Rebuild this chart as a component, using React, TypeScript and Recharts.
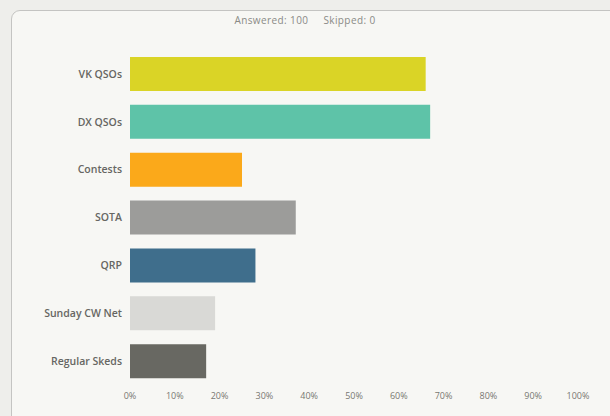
import { BarChart, Bar, XAxis, YAxis, Cell } from 'recharts'

const categories = ['VK QSOs', 'DX QSOs', 'Contests', 'SOTA', 'QRP', 'Sunday CW Net', 'Regular Skeds']
const percents = [66, 67, 25, 37, 28, 19, 17]
const colors = ['#dad426', '#5ec3a8', '#fba91a', '#9c9c9a', '#3f6e8c', '#d9d9d6', '#686862']
const xTicks = [0, 10, 20, 30, 40, 50, 60, 70, 80, 90, 100]
const answered = 100
const skipped = 0

const rows = categories.map((name, i) => ({ name, value: percents[i] }))
const font = '"Open Sans", "DejaVu Sans", sans-serif'

export default function App() {
  return (
    <div style={{ position: 'absolute', left: 0, top: 0, width: 610, height: 416, background: '#eeeeeb', overflow: 'hidden' }}>
      <div style={{ position: 'absolute', left: 11, top: 10, width: 620, height: 430, background: '#f7f7f4', border: '1.5px solid #c4c4c2', borderRadius: 9 }} />
      <div style={{ position: 'absolute', left: 0, top: 13, width: 610, textAlign: 'center', fontFamily: font, fontSize: 10, color: '#8a8a86', whiteSpace: 'pre', letterSpacing: 0.4 }}>
        {`Answered: ${answered}     Skipped: ${skipped}`}
      </div>
      <BarChart
        width={610}
        height={416}
        data={rows}
        layout="vertical"
        margin={{ top: 50, right: 32, left: 0, bottom: 13 }}
        style={{ position: 'absolute', left: 0, top: 0 }}
      >
        <XAxis
          type="number"
          domain={[0, 100]}
          ticks={xTicks}
          tickFormatter={(v: number) => `${v}%`}
          axisLine={false}
          tickLine={false}
          interval={0}
          height={18}
          tick={{ fontFamily: font, fontSize: 9, fill: '#777772' }}
        />
        <YAxis
          type="category"
          dataKey="name"
          width={130}
          axisLine={false}
          tickLine={false}
          tick={{ fontFamily: font, fontSize: 10.5, fill: '#666662', fontWeight: 600 }}
        />
        <Bar dataKey="value" barSize={34} isAnimationActive={false}>
          {rows.map((r, i) => <Cell key={r.name} fill={colors[i]} />)}
        </Bar>
      </BarChart>
    </div>
  )
}
